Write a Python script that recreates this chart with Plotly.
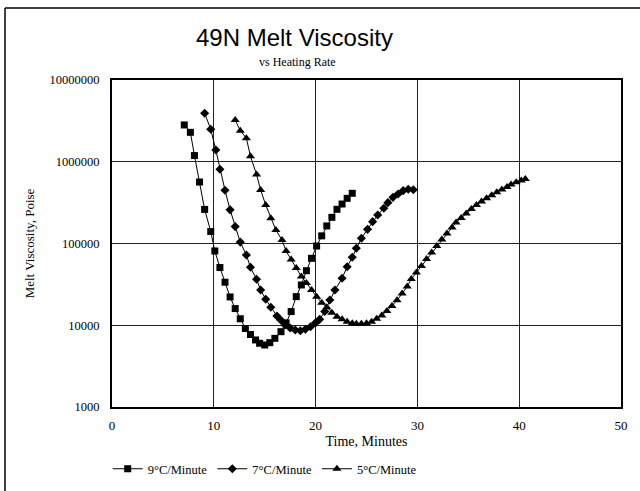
import plotly.graph_objects as go

# 9°C/Minute (squares)
t9 = [7.1, 7.7, 8.1, 8.6, 9.1, 9.7, 10.1, 10.6, 11.1, 11.6, 12.1, 12.6, 13.1, 13.6,
      14.1, 14.5, 15.0, 15.5, 16.0, 16.6, 17.1, 17.6, 18.1, 18.6, 19.1, 19.6, 20.1,
      20.6, 21.1, 21.6, 22.1, 22.6, 23.1, 23.6]
v9 = [2.82e6, 2.29e6, 1.19e6, 5.65e5, 2.61e5, 1.40e5, 8.1e4, 5.08e4, 3.36e4, 2.22e4,
      1.60e4, 1.20e4, 9.13e3, 7.7e3, 6.61e3, 6.02e3, 5.73e3, 6.12e3, 6.92e3, 8.34e3,
      1.07e4, 1.47e4, 2.24e4, 3.11e4, 4.65e4, 6.59e4, 9.31e4, 1.24e5, 1.64e5, 2.09e5,
      2.62e5, 3.04e5, 3.57e5, 4.11e5]

# 7°C/Minute (diamonds)
t7 = [9.1, 9.7, 10.2, 10.6, 11.1, 11.6, 12.1, 12.6, 13.2, 13.6, 14.2, 14.6, 15.1, 15.6,
      16.2, 16.6, 17.0, 17.5, 18.0, 18.5, 19.0, 19.5, 20.0, 20.4, 20.9, 21.4, 21.9,
      22.6, 23.1, 23.6, 24.0, 24.5, 25.1, 25.6, 26.1, 26.7, 27.1, 27.6, 28.1, 28.6,
      29.1, 29.6]
v7 = [3.92e6, 2.50e6, 1.39e6, 8.09e5, 4.48e5, 2.58e5, 1.61e5, 1.04e5, 7.23e4, 5.12e4,
      3.65e4, 2.70e4, 2.08e4, 1.66e4, 1.30e4, 1.15e4, 1.01e4, 9.25e3, 8.75e3, 8.55e3,
      8.92e3, 9.6e3, 1.07e4, 1.18e4, 1.47e4, 2.04e4, 2.70e4, 3.75e4, 5.20e4, 6.78e4,
      8.73e4, 1.16e5, 1.49e5, 1.85e5, 2.23e5, 2.70e5, 3.16e5, 3.67e5, 4.03e5, 4.43e5,
      4.61e5, 4.55e5]

# 5°C/Minute (triangles)
t5 = [12.1, 12.6, 13.2, 13.6, 14.2, 14.6, 15.1, 15.6, 16.1, 16.7, 17.1, 17.6, 18.1,
      18.6, 19.1, 19.6, 20.1, 20.6, 21.1, 21.6, 22.1, 22.6, 23.1, 23.6, 24.0, 24.5,
      25.0, 25.5, 26.0, 26.5, 27.0, 27.5, 28.0, 28.5, 29.0, 29.4, 29.9, 30.4, 30.9,
      31.4, 31.9, 32.4, 32.9, 33.4, 33.8, 34.3, 34.8, 35.3, 35.8, 36.3, 36.8, 37.3,
      37.8, 38.3, 38.8, 39.2, 39.7, 40.2, 40.6]
v5 = [3.24e6, 2.40e6, 1.94e6, 1.17e6, 6.98e5, 4.51e5, 2.96e5, 2.03e5, 1.46e5, 1.10e5,
      8.09e4, 6.37e4, 5.01e4, 3.95e4, 3.29e4, 2.70e4, 2.23e4, 1.89e4, 1.66e4, 1.42e4,
      1.27e4, 1.18e4, 1.10e4, 1.06e4, 1.04e4, 1.04e4, 1.06e4, 1.10e4, 1.20e4, 1.32e4,
      1.49e4, 1.72e4, 2.02e4, 2.44e4, 2.98e4, 3.68e4, 4.42e4, 5.31e4, 6.46e4, 7.76e4,
      9.31e4, 1.12e5, 1.33e5, 1.57e5, 1.81e5, 2.05e5, 2.33e5, 2.64e5, 2.96e5, 3.26e5,
      3.57e5, 3.89e5, 4.23e5, 4.58e5, 4.91e5, 5.27e5, 5.61e5, 5.90e5, 6.15e5]

x_ticks = [0, 10, 20, 30, 40, 50]
y_ticks = [1000, 10000, 100000, 1000000, 10000000]
y_tick_labels = ["1000", "10000", "100000", "1000000", "10000000"]

serif = "Liberation Serif, Times New Roman, serif"
sans = "Liberation Sans, Arial, sans-serif"

fig = go.Figure()
series = [
    (t9, v9, "9°C/Minute", "square", 7),
    (t7, v7, "7°C/Minute", "diamond", 7),
    (t5, v5, "5°C/Minute", "triangle-up", 8),
]
for t, v, name, sym, sz in series:
    fig.add_trace(go.Scatter(
        x=t, y=v, name=name, mode="lines+markers",
        line=dict(color="black", width=1),
        marker=dict(symbol=sym, size=sz, color="black"),
    ))

fig.update_layout(
    template="none",
    width=640, height=491,
    margin=dict(l=112, r=19, t=80, b=84, autoexpand=False),
    paper_bgcolor="white", plot_bgcolor="white",
    font=dict(family=serif, size=12, color="black"),
    showlegend=True,
    legend=dict(
        orientation="h", x=0.30, xanchor="center", y=-0.19, yanchor="middle",
        font=dict(family=serif, size=12.5, color="black"), itemwidth=30,
        bgcolor="rgba(0,0,0,0)",
    ),
    xaxis=dict(
        range=[0, 50], tickvals=x_ticks, ticks="outside", ticklen=5,
        tickcolor="rgba(0,0,0,0)", showgrid=True, automargin=False,
        gridcolor="#222", gridwidth=1, zeroline=False,
        showline=True, linecolor="black", linewidth=2, mirror=True,
        title=dict(text="Time, Minutes", standoff=5, font=dict(size=14, color="black")),
        tickfont=dict(size=13, color="black"),
    ),
    yaxis=dict(
        type="log", range=[3, 7], tickvals=y_ticks, ticktext=y_tick_labels,
        ticks="outside", ticklen=8, tickcolor="rgba(0,0,0,0)", automargin=False,
        showgrid=True, gridcolor="#222", gridwidth=1, zeroline=False,
        showline=True, linecolor="black", linewidth=2, mirror=True,
        title=dict(text="Melt Viscosity, Poise", standoff=12, font=dict(size=13, color="black")),
        tickfont=dict(size=12.5, color="black"),
    ),
    annotations=[
        dict(text="49N Melt Viscosity", xref="paper", yref="paper",
             x=0.3576, y=1.13, xanchor="center", yanchor="middle", showarrow=False,
             font=dict(family=sans, size=24, color="black")),
        dict(text="vs Heating Rate", xref="paper", yref="paper",
             x=0.3654, y=1.055, xanchor="center", yanchor="middle", showarrow=False,
             font=dict(family=serif, size=12, color="black")),
    ],
)

# outer frame (left and top edges visible in the reference)
fig.add_shape(type="line", xref="paper", yref="paper",
              x0=-0.2102, x1=-0.2102, y0=1.2202, y1=-0.3,
              line=dict(color="black", width=1.5))
fig.add_shape(type="line", xref="paper", yref="paper",
              x0=-0.2102, x1=1.1, y0=1.2202, y1=1.2202,
              line=dict(color="black", width=1.5))

fig.write_html("out.html", config={"displayModeBar": False},
               post_script="document.body.style.margin='0';")
